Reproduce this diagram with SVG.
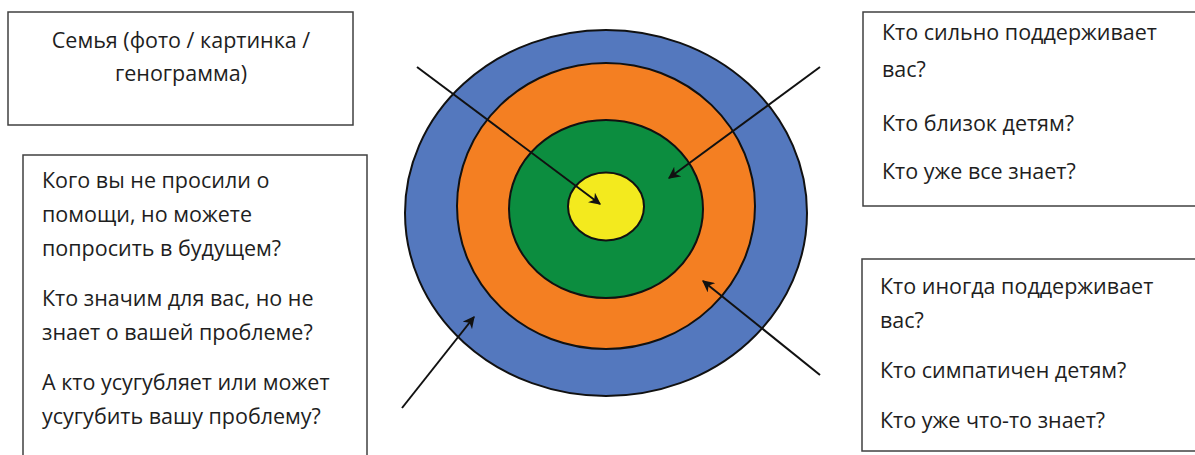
<svg xmlns="http://www.w3.org/2000/svg" width="1195" height="455" viewBox="0 0 1195 455">
<style>
.box{fill:#fff;stroke:#404040;stroke-width:1.5}
.t{font-family:"Open Sans","Noto Sans",sans-serif;font-size:21.5px;fill:#1e1e1e}
.ring{stroke:#111;stroke-width:2}
.arr{stroke:#111;stroke-width:2;fill:none;marker-end:url(#ah)}
</style>
<defs>
<marker id="ah" viewBox="0 0 10 10" refX="9" refY="5" markerWidth="6" markerHeight="6" orient="auto" markerUnits="strokeWidth">
<path d="M0,0 L10,5 L0,10 L3,5 Z" fill="#111"/>
</marker>
</defs>
<rect width="1195" height="455" fill="#fff"/>
<g id="family">
<rect class="box" x="8" y="12" width="345" height="113"/>
<text class="t" x="181" y="48" text-anchor="middle">Семья (фото / картинка /</text>
<text class="t" x="181" y="81" text-anchor="middle">генограмма)</text>
</g>
<g id="outer-questions">
<rect class="box" x="23" y="155" width="344" height="310"/>
<text class="t" x="42" y="188">Кого вы не просили о</text>
<text class="t" x="42" y="222">помощи, но можете</text>
<text class="t" x="42" y="256">попросить в будущем?</text>
<text class="t" x="42" y="306">Кто значим для вас, но не</text>
<text class="t" x="42" y="340">знает о вашей проблеме?</text>
<text class="t" x="42" y="390">А кто усугубляет или может</text>
<text class="t" x="42" y="424">усугубить вашу проблему?</text>
</g>
<g id="target">
<ellipse class="ring" cx="606" cy="213" rx="201" ry="183" fill="#5478BE"/>
<ellipse class="ring" cx="606" cy="206" rx="149" ry="143" fill="#F47F22"/>
<ellipse class="ring" cx="606" cy="209" rx="97" ry="89" fill="#0C8D3F"/>
<ellipse class="ring" cx="606" cy="206.5" rx="38" ry="34" fill="#F3EA1E"/>
</g>
<g id="strong-support">
<rect class="box" x="863" y="12" width="340" height="194"/>
<text class="t" x="882" y="40">Кто сильно поддерживает</text>
<text class="t" x="882" y="77">вас?</text>
<text class="t" x="882" y="131">Кто близок детям?</text>
<text class="t" x="882" y="179">Кто уже все знает?</text>
</g>
<g id="some-support">
<rect class="box" x="862" y="259" width="340" height="192"/>
<text class="t" x="880" y="294">Кто иногда поддерживает</text>
<text class="t" x="880" y="328">вас?</text>
<text class="t" x="880" y="378">Кто симпатичен детям?</text>
<text class="t" x="880" y="428">Кто уже что-то знает?</text>
</g>
<g id="connectors">
<line class="arr" x1="417" y1="67" x2="600" y2="204"/>
<line class="arr" x1="820" y1="67" x2="669" y2="178"/>
<line class="arr" x1="820" y1="375" x2="703" y2="281"/>
<line class="arr" x1="402" y1="408" x2="474" y2="317"/>
</g>
</svg>
